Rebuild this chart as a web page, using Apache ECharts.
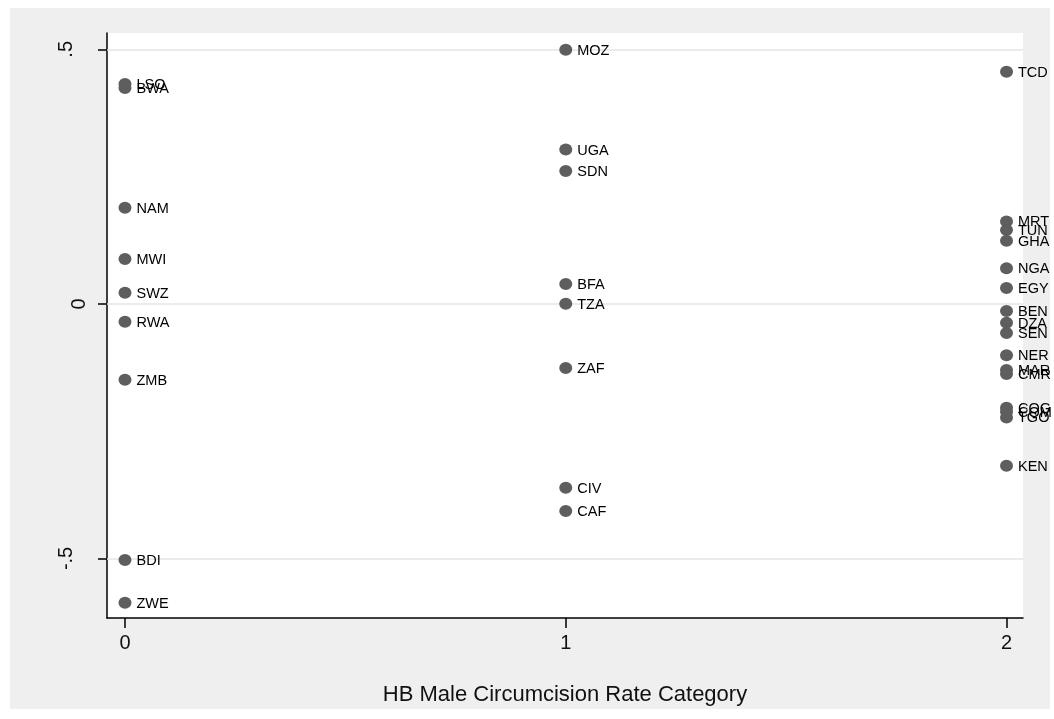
<!DOCTYPE html>
<html>
<head>
<meta charset="utf-8">
<script src="https://cdn.jsdelivr.net/npm/echarts@6/dist/echarts.min.js"></script>
<style>
html,body{margin:0;padding:0;background:#fff;}
#chart{width:1054px;height:719px;}
</style>
</head>
<body>
<div id="chart"></div>
<script>
// Category 0 (low)
const cat0Names = ['LSO','BWA','NAM','MWI','SWZ','RWA','ZMB','BDI','ZWE'];
const cat0Values = [0.432, 0.424, 0.189, 0.088, 0.022, -0.035, -0.149, -0.503, -0.587];
// Category 1 (medium)
const cat1Names = ['MOZ','UGA','SDN','BFA','TZA','ZAF','CIV','CAF'];
const cat1Values = [0.499, 0.303, 0.261, 0.039, 0.000, -0.126, -0.361, -0.407];
// Category 2 (high)
const cat2Names = ['TCD','MRT','TUN','GHA','NGA','EGY','BEN','DZA','SEN','NER','MAR','CMR','COG','COM','TGO','KEN'];
const cat2Values = [0.456, 0.162, 0.145, 0.124, 0.070, 0.031, -0.014, -0.037, -0.057, -0.101, -0.130, -0.138, -0.204, -0.212, -0.223, -0.318];

const xTicks = [0, 1, 2];
const yTicks = [-0.5, 0, 0.5];
const xTitle = 'HB Male Circumcision Rate Category';

function fmtY(v){
  if (Math.abs(v) < 1e-9) return '{z|0}';
  return '{f|' + (v < 0 ? '-' : '') + String(Math.abs(v)).replace(/^0/, '') + '}';
}

const points = [];
[[0, cat0Names, cat0Values],[1, cat1Names, cat1Values],[2, cat2Names, cat2Values]].forEach(([x, names, vals]) => {
  names.forEach((n, i) => points.push({ name: n, value: [x, vals[i]] }));
});

const chart = echarts.init(document.getElementById('chart'));
const FONT = '"Liberation Sans", Arial, sans-serif';
chart.setOption({
  backgroundColor: '#ffffff',
  animation: false,
  graphic: { elements: [
    { type: 'rect', z: -100, silent: true, shape: { x: 10, y: 8, width: 1040, height: 701 }, style: { fill: '#efefef' } }
  ]},
  grid: { left: 107, right: 31, top: 33, bottom: 101, show: true, backgroundColor: '#ffffff', borderWidth: 0 },
  xAxis: {
    type: 'value', min: -0.0408, max: 2.0374,
    name: xTitle, nameLocation: 'middle', nameGap: 66,
    nameTextStyle: { fontFamily: FONT, fontSize: 22, color: '#111' },
    axisLine: { show: true, onZero: false, lineStyle: { color: '#000', width: 1.5 } },
    axisTick: { show: true, customValues: xTicks, length: 10, lineStyle: { color: '#000', width: 1.5 } },
    axisLabel: { customValues: xTicks, fontFamily: FONT, fontSize: 20, color: '#111', margin: 15 },
    splitLine: { show: false }
  },
  yAxis: {
    type: 'value', min: -0.617, max: 0.532,
    axisLine: { show: true, onZero: false, lineStyle: { color: '#000', width: 1.5 } },
    axisTick: { show: true, customValues: yTicks, length: 9, lineStyle: { color: '#000', width: 1.5 } },
    axisLabel: {
      customValues: yTicks, formatter: fmtY, rotate: 90, margin: 18,
      fontFamily: FONT, fontSize: 20, color: '#111',
      rich: {
        z: { fontFamily: FONT, fontSize: 20, color: '#111' },
        f: { fontFamily: FONT, fontSize: 20, color: '#111', padding: [0, 0, 13, 0] }
      }
    },
    splitLine: { show: false }
  },
  series: [
    {
      type: 'line', data: [], z: 1,
      markLine: {
        z: 1, silent: true, symbol: ['none','none'], label: { show: false },
        lineStyle: { color: '#e4e4e4', width: 1.5, type: 'solid' },
        data: yTicks.map(v => ({ yAxis: v }))
      }
    },
    {
      type: 'scatter', z: 3,
      symbol: 'circle', symbolSize: [13, 12],
      itemStyle: { color: '#5e5e5e', opacity: 1 },
      label: {
        show: true, position: 'right', distance: 5,
        formatter: p => p.name,
        fontFamily: FONT, fontSize: 14.5, color: '#000', offset: [0, 1]
      },
      emphasis: { disabled: true },
      data: points
    }
  ]
});
</script>
</body>
</html>
